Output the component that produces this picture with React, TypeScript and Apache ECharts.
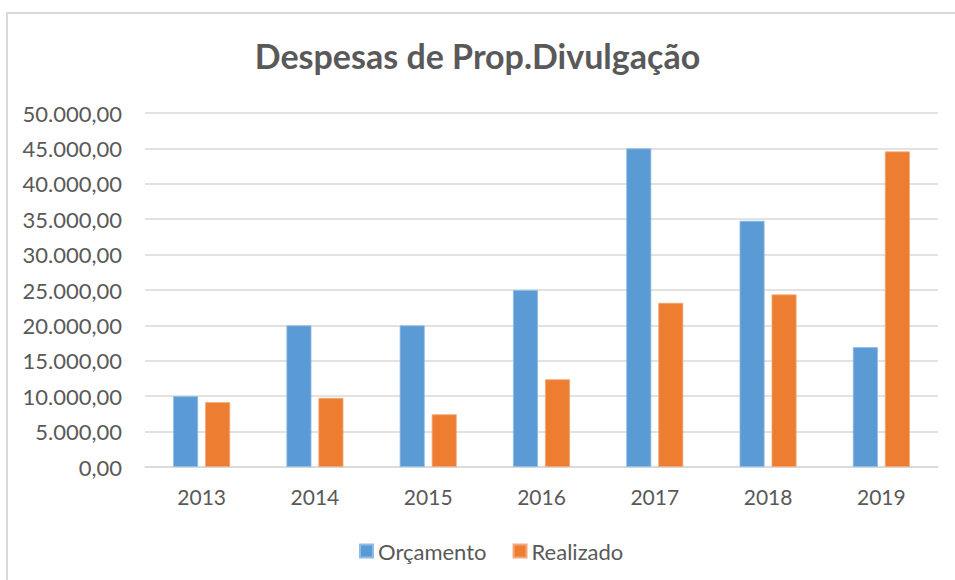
import React, { useEffect, useRef } from "react";
import * as echarts from "echarts";

const title = "Despesas de Prop.Divulgação";
const categories = ["2013", "2014", "2015", "2016", "2017", "2018", "2019"];
const seriesNames = ["Orçamento", "Realizado"];
const orcamento = [10000, 20000, 20000, 25000, 45000, 34780, 16920];
const realizado = [9150, 9760, 7440, 12390, 23190, 24370, 44570];
const yMin = 0;
const yMax = 50000;
const yStep = 5000;

function fmtBR(v: number): string {
  const fixed = Math.abs(v).toFixed(2);
  const [intPart, dec] = fixed.split(".");
  const withDots = intPart.replace(/\B(?=(\d{3})+(?!\d))/g, ".");
  return (v < 0 ? "-" : "") + withDots + "," + dec;
}

export default function App() {
  const ref = useRef<HTMLDivElement>(null);
  useEffect(() => {
    if (!ref.current) return;
    const chart = echarts.init(ref.current, null, { renderer: "svg" });
    const font = "Lato, 'Noto Sans', sans-serif";
    chart.setOption({
      animation: false,
      backgroundColor: "#ffffff",
      textStyle: { fontFamily: font },
      graphic: [
        {
          type: "rect",
          shape: { x: 7, y: 13, width: 1000, height: 700 },
          style: { fill: "none", stroke: "#d9d9d9", lineWidth: 2 },
          silent: true,
          z: -1,
        },
      ],
      title: {
        text: title,
        left: "center",
        top: 33,
        textStyle: {
          fontFamily: font,
          fontSize: 34,
          fontWeight: "bold",
          color: "#595959",
        },
      },
      legend: {
        data: seriesNames,
        top: 535,
        left: 354,
        itemWidth: 13,
        itemHeight: 13,
        itemGap: 26,
        icon: "rect",
        textStyle: { fontFamily: font, fontSize: 22, color: "#595959" },
      },
      grid: { left: 145, right: 17, top: 113, bottom: 113, containLabel: false },
      xAxis: {
        type: "category",
        data: categories,
        axisTick: { show: false },
        axisLine: { show: true, lineStyle: { color: "#d9d9d9", width: 1.5 } },
        axisLabel: { fontFamily: font, fontSize: 21, color: "#595959", margin: 19 },
      },
      yAxis: {
        type: "value",
        min: yMin,
        max: yMax,
        interval: yStep,
        axisLine: { show: false },
        axisTick: { show: false },
        splitLine: { lineStyle: { color: "#d9d9d9", width: 1.5 } },
        axisLabel: {
          fontFamily: font,
          fontSize: 22,
          color: "#595959",
          margin: 23,
          formatter: (v: number) => fmtBR(v),
        },
      },
      series: [
        {
          name: seriesNames[0],
          type: "bar",
          data: orcamento,
          barWidth: 25,
          barGap: "28%",
          itemStyle: { color: "#5b9bd5", borderColor: "#8fbbe6", borderWidth: 0.8 },
        },
        {
          name: seriesNames[1],
          type: "bar",
          data: realizado,
          barWidth: 25,
          barGap: "28%",
          itemStyle: { color: "#ed7d31", borderColor: "#f4a878", borderWidth: 0.8 },
        },
      ],
    });
    return () => chart.dispose();
  }, []);
  return (
    <div
      ref={ref}
      style={{ position: "fixed", left: 0, top: 0, width: 955, height: 580 }}
    />
  );
}
